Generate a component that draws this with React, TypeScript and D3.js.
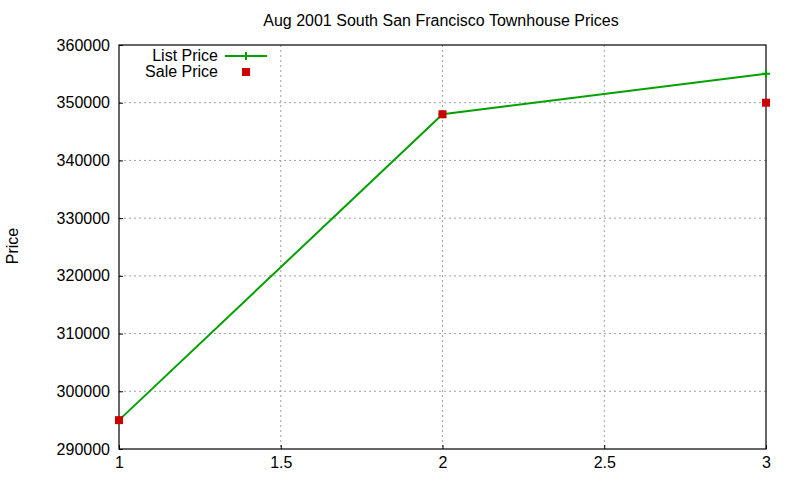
import { useEffect, useRef } from 'react'
import * as d3 from 'd3'

const xValues = [1, 2, 3]
const listPrice = [295000, 348000, 355000]
const salePrice = [295000, 348000, 350000]
const xTicks = [1, 1.5, 2, 2.5, 3]
const yTicks = [290000, 300000, 310000, 320000, 330000, 340000, 350000, 360000]

export default function App() {
  const svgRef = useRef<SVGSVGElement>(null)

  useEffect(() => {
    if (!svgRef.current) return
    const svg = d3.select(svgRef.current)
    svg.selectAll('*').remove()

    const width = 800
    const height = 480
    const margin = { top: 45, right: 34, bottom: 31, left: 119 }
    const innerWidth = width - margin.left - margin.right
    const innerHeight = height - margin.top - margin.bottom
    const font = 'Liberation Sans, Arial, sans-serif'
    const fs = '16px'
    const green = '#00a000'
    const red = '#cc0000'

    svg.attr('viewBox', `0 0 ${width} ${height}`)
      .style('font-family', font)
    svg.append('rect').attr('width', width).attr('height', height).attr('fill', '#fff')

    const g = svg.append('g').attr('transform', `translate(${margin.left},${margin.top})`)

    const x = d3.scaleLinear().domain([1, 3]).range([0, innerWidth])
    const y = d3.scaleLinear().domain([290000, 360000]).range([innerHeight, 0])

    // Grid
    g.selectAll('.vgrid')
      .data(xTicks.slice(1, -1))
      .enter()
      .append('line')
      .attr('x1', d => x(d)).attr('x2', d => x(d))
      .attr('y1', 0).attr('y2', innerHeight)
      .attr('stroke', '#a0a0a0').attr('stroke-dasharray', '2,3')
    g.selectAll('.hgrid')
      .data(yTicks.slice(1, -1))
      .enter()
      .append('line')
      .attr('x1', 0).attr('x2', innerWidth)
      .attr('y1', d => y(d)).attr('y2', d => y(d))
      .attr('stroke', '#a0a0a0').attr('stroke-dasharray', '2,3')

    // Axes, ticks inward
    g.append('g')
      .attr('transform', `translate(0,${innerHeight})`)
      .call(d3.axisBottom(x).tickValues(xTicks).tickSize(-4).tickPadding(8).tickFormat(d => `${d}`))
      .call(a => a.select('.domain').remove())
      .selectAll('text').attr('font-size', fs).attr('font-family', font).attr('fill', '#000')
    g.append('g')
      .call(d3.axisLeft(y).tickValues(yTicks).tickSize(-4).tickPadding(9).tickFormat(d => `${d}`))
      .call(a => a.select('.domain').remove())
      .selectAll('text').attr('font-size', fs).attr('font-family', font).attr('fill', '#000')

    g.append('rect')
      .attr('width', innerWidth).attr('height', innerHeight)
      .attr('fill', 'none').attr('stroke', '#000').attr('stroke-width', 1.2)

    // List price line
    const line = d3.line<number>()
      .x((_, i) => x(xValues[i]))
      .y(d => y(d))
    g.append('path')
      .datum(listPrice)
      .attr('d', line)
      .attr('fill', 'none').attr('stroke', green).attr('stroke-width', 2)
    g.selectAll('.plus')
      .data(listPrice)
      .enter()
      .append('path')
      .attr('d', (d, i) => {
        const cx = x(xValues[i]), cy = y(d)
        return `M${cx - 4},${cy}H${cx + 4}M${cx},${cy - 4}V${cy + 4}`
      })
      .attr('stroke', green).attr('stroke-width', 2)

    // Sale price points
    g.selectAll('.sale')
      .data(salePrice)
      .enter()
      .append('rect')
      .attr('x', (_, i) => x(xValues[i]) - 4)
      .attr('y', d => y(d) - 4)
      .attr('width', 8).attr('height', 8)
      .attr('fill', red)

    // Legend
    const legend = svg.append('g')
    legend.append('text')
      .attr('x', 218).attr('y', 61).attr('text-anchor', 'end')
      .attr('font-size', fs).text('List Price')
    legend.append('line')
      .attr('x1', 225).attr('x2', 267).attr('y1', 56).attr('y2', 56)
      .attr('stroke', green).attr('stroke-width', 2)
    legend.append('path')
      .attr('d', 'M242,56H250M246,52V60')
      .attr('stroke', green).attr('stroke-width', 2)
    legend.append('text')
      .attr('x', 218).attr('y', 77).attr('text-anchor', 'end')
      .attr('font-size', fs).text('Sale Price')
    legend.append('rect')
      .attr('x', 242).attr('y', 68).attr('width', 8).attr('height', 8)
      .attr('fill', red)

    // Title
    svg.append('text')
      .attr('x', 441).attr('y', 26).attr('text-anchor', 'middle')
      .attr('font-size', fs).text('Aug 2001 South San Francisco Townhouse Prices')

    // Y label
    svg.append('text')
      .attr('transform', 'translate(18,246) rotate(-90)')
      .attr('text-anchor', 'middle')
      .attr('font-size', fs).text('Price')
  }, [])

  return (
    <svg ref={svgRef} width={800} height={480}
      style={{ position: 'absolute', left: 0, top: 0, display: 'block' }} />
  )
}
